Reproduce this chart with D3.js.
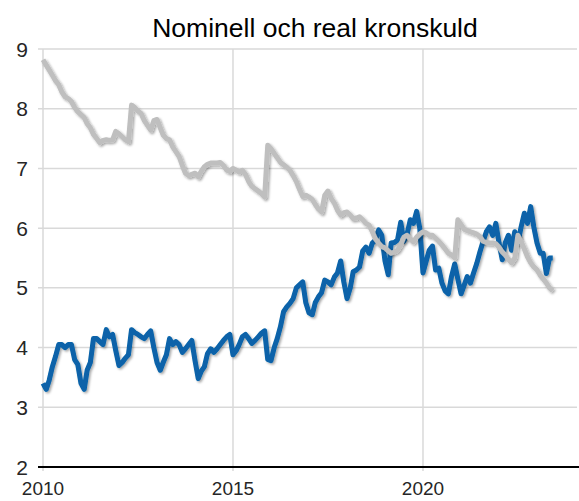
<!DOCTYPE html>
<html><head><meta charset="utf-8">
<script src="https://cdn.jsdelivr.net/npm/d3@7"></script>
<style>body{margin:0;background:#fff}svg{display:block}</style>
</head><body>
<script>
const title = "Nominell och real kronskuld";
const startYear = 2010;
const yTicks = [2,3,4,5,6,7,8,9];
const xTicks = [2010, 2015, 2020];
// monthly values, Jan 2010 - Jun 2023
const nominell = [
3.40,3.30,3.45,3.68,3.85,4.05,4.05,4.00,4.05,4.05,3.80,3.72,
3.40,3.30,3.62,3.75,4.15,4.15,4.10,4.05,4.30,4.18,4.22,3.95,
3.70,3.75,3.82,3.88,4.30,4.25,4.22,4.18,4.15,4.22,4.28,4.00,
3.75,3.62,3.75,3.88,4.15,4.05,4.10,4.05,3.92,3.98,4.05,4.12,
3.78,3.48,3.60,3.68,3.90,3.98,3.92,3.98,4.05,4.12,4.18,4.22,
3.88,3.95,4.05,4.18,4.22,4.15,4.07,4.12,4.18,4.24,4.28,3.80,
3.78,4.00,4.15,4.35,4.60,4.68,4.74,4.82,5.00,5.05,5.10,4.75,
4.58,4.55,4.75,4.85,4.92,5.13,5.10,5.05,5.18,5.25,5.45,5.10,
4.82,5.00,5.27,5.30,5.35,5.62,5.68,5.58,5.75,5.80,5.97,5.88,
5.45,5.22,5.75,5.76,5.80,6.10,5.78,5.90,6.14,6.08,6.28,6.00,
5.25,5.45,5.63,5.70,5.30,5.33,5.08,4.95,4.90,5.19,5.40,5.15,
4.90,5.05,5.19,5.08,5.25,5.41,5.60,5.78,5.94,6.02,5.88,6.08,
5.75,5.47,5.75,5.88,5.63,5.94,5.75,6.02,6.25,6.08,6.36,6.02,
5.75,5.58,5.58,5.24,5.50,5.50
];
const real = [
8.82,8.73,8.65,8.56,8.47,8.40,8.28,8.20,8.17,8.12,8.02,7.95,
7.90,7.85,7.75,7.68,7.57,7.50,7.43,7.47,7.48,7.47,7.48,7.62,
7.58,7.53,7.48,7.45,8.06,8.02,7.96,7.92,7.80,7.72,7.64,7.80,
7.82,7.68,7.56,7.50,7.48,7.36,7.28,7.20,7.05,6.92,6.88,6.90,
6.92,6.86,6.95,7.03,7.07,7.09,7.09,7.09,7.10,7.05,6.97,6.95,
7.00,6.97,6.94,6.97,6.90,6.78,6.70,6.66,6.62,6.58,6.52,7.39,
7.33,7.25,7.18,7.10,7.06,7.02,6.97,6.88,6.78,6.65,6.53,6.55,
6.52,6.48,6.40,6.32,6.27,6.55,6.62,6.50,6.42,6.30,6.22,6.26,
6.27,6.22,6.16,6.17,6.19,6.14,6.08,6.05,5.94,5.82,5.75,5.69,
5.67,5.62,5.58,5.60,5.63,5.72,5.85,5.88,5.82,5.77,5.85,5.90,
5.94,5.92,5.88,5.88,5.83,5.78,5.72,5.65,5.58,5.55,5.50,6.14,
6.06,5.98,5.96,5.94,5.92,5.90,5.86,5.78,5.76,5.75,5.75,5.74,
5.68,5.60,5.55,5.48,5.42,5.50,5.88,5.77,5.65,5.52,5.42,5.35,
5.30,5.21,5.15,5.08,5.00,4.95
];

const W = 579, H = 501;
const svg = d3.select("body").append("svg").attr("width", W).attr("height", H)
  .style("font-family", "Liberation Sans, Arial, sans-serif");

const defs = svg.append("defs");
const f = defs.append("filter").attr("id","sh").attr("x","-10%").attr("y","-10%").attr("width","120%").attr("height","120%");
f.append("feDropShadow").attr("dx",1.5).attr("dy",1.5).attr("stdDeviation",0.8)
  .attr("flood-color","#000").attr("flood-opacity",0.35);

const x = d3.scaleTime().domain([new Date(2010,0,1), new Date(2024,0,1)]).range([43, 575]);
const y = d3.scaleLinear().domain([2, 9]).range([467, 49]);

const g = svg.append("g");
g.selectAll("line.h").data(yTicks.filter(d => d > 2)).join("line")
  .attr("x1", 38).attr("x2", 577)
  .attr("y1", d => y(d)).attr("y2", d => y(d))
  .attr("stroke", "#d9d9d9").attr("stroke-width", 1.5);
g.selectAll("line.v").data(xTicks).join("line")
  .attr("x1", d => x(new Date(d,0,1))).attr("x2", d => x(new Date(d,0,1)))
  .attr("y1", y(9)).attr("y2", y(2) + 4)
  .attr("stroke", "#d9d9d9").attr("stroke-width", 1.5);
g.append("line").attr("x1", 38).attr("x2", 579).attr("y1", y(2)).attr("y2", y(2))
  .attr("stroke", "#000").attr("stroke-width", 2);

svg.selectAll("text.y").data(yTicks).join("text")
  .attr("x", 28).attr("y", d => y(d)).attr("dy", "0.36em")
  .attr("text-anchor", "end").attr("font-size", 21).attr("fill", "#262626")
  .text(d => d);
svg.selectAll("text.x").data(xTicks).join("text")
  .attr("x", d => x(new Date(d,0,1))).attr("y", 495)
  .attr("text-anchor", "middle").attr("font-size", 19).attr("fill", "#262626")
  .text(d => d);
svg.append("text").attr("x", 315).attr("y", 37).attr("text-anchor", "middle")
  .attr("font-size", 26.5).attr("fill", "#000").text(title);

const line = d3.line().x((d, i) => x(new Date(startYear, i, 1))).y(d => y(d));
svg.append("path").datum(nominell).attr("d", line).attr("fill", "none")
  .attr("stroke", "#0762a9").attr("stroke-width", 5).attr("stroke-linejoin", "round")
  .attr("filter", "url(#sh)");
svg.append("path").datum(real).attr("d", line).attr("fill", "none")
  .attr("stroke", "#bfbfbf").attr("stroke-width", 5).attr("stroke-linejoin", "round")
  .attr("filter", "url(#sh)");
</script>
</body></html>
